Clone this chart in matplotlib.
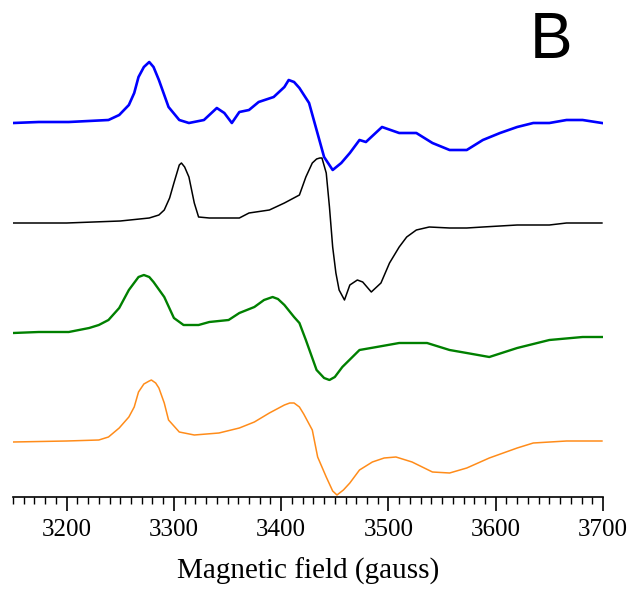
import matplotlib
matplotlib.use("Agg")
import matplotlib.pyplot as plt
from matplotlib.ticker import MultipleLocator

# field positions (gauss) and signal (arbitrary units, baseline = 0)
blue_field = [3150, 3174, 3202, 3239, 3249, 3258, 3263, 3267, 3272, 3277, 3281, 3286,
              3295, 3305, 3314, 3328, 3336, 3340, 3347, 3354, 3361, 3370, 3379, 3393,
              3403, 3407, 3412, 3417, 3426, 3433, 3440, 3448, 3456, 3464, 3473, 3479,
              3494, 3510, 3526, 3541, 3557, 3573, 3588, 3604, 3620, 3635, 3650, 3666,
              3681, 3699]
blue_signal = [0, 1, 1, 3, 8, 18, 30, 46, 56, 61, 56, 43,
               16, 3, 0, 3, 11, 15, 10, 0, 11, 13, 21, 26,
               36, 43, 41, 35, 20, -7, -34, -47, -40, -30, -17, -19,
               -4, -10, -10, -20, -27, -27, -17, -10, -4, 0, 0, 3,
               3, 0]

black_field = [3150, 3200, 3250, 3277, 3286, 3291, 3296, 3300, 3305, 3307, 3310, 3314,
               3319, 3323, 3333, 3361, 3370, 3389, 3403, 3417, 3423, 3429, 3433, 3436,
               3438, 3442, 3445, 3448, 3451, 3454, 3459, 3464, 3471, 3476, 3484, 3493,
               3501, 3510, 3517, 3526, 3538, 3557, 3573, 3588, 3620, 3650, 3666, 3699]
black_signal = [0, 0, 2, 5, 8, 13, 25, 40, 58, 60, 56, 46,
                20, 6, 5, 5, 10, 13, 20, 28, 46, 60, 64, 65,
                65, 50, 16, -24, -50, -67, -77, -62, -57, -59, -69, -60,
                -40, -24, -14, -7, -4, -5, -5, -4, -2, -2, 0, 0]

green_field = [3150, 3174, 3202, 3221, 3230, 3239, 3249, 3258, 3267, 3272, 3277, 3281,
               3291, 3300, 3309, 3323, 3333, 3351, 3361, 3375, 3384, 3392, 3397, 3403,
               3412, 3417, 3423, 3433, 3440, 3445, 3450, 3457, 3473, 3489, 3510, 3536,
               3557, 3573, 3594, 3620, 3650, 3681, 3699]
green_signal = [0, 1, 1, 5, 8, 13, 25, 43, 56, 58, 56, 51,
                36, 15, 8, 8, 11, 13, 20, 26, 33, 36, 34, 28,
                16, 10, -7, -37, -45, -47, -44, -34, -17, -14, -10, -10,
                -17, -20, -24, -15, -7, -4, -4]

orange_field = [3150, 3200, 3230, 3239, 3249, 3258, 3263, 3267, 3272, 3277, 3279, 3283,
                3286, 3291, 3295, 3305, 3319, 3342, 3361, 3375, 3389, 3403, 3408, 3412,
                3417, 3421, 3429, 3434, 3442, 3448, 3452, 3458, 3464, 3473, 3485, 3496,
                3507, 3522, 3541, 3557, 3573, 3594, 3620, 3635, 3666, 3699]
orange_signal = [0, 1, 2, 5, 14, 25, 35, 50, 58, 61, 62, 59,
                 54, 39, 22, 10, 7, 9, 14, 20, 29, 37, 39, 39,
                 35, 28, 12, -15, -35, -49, -53, -48, -41, -28, -20, -16,
                 -15, -20, -30, -31, -26, -16, -6, -1, 1, 1]

# vertical stacking of the four spectra
offsets = [-123, -223, -333, -442]
colors = ["#0000ff", "#000000", "#008000", "#ff8c1a"]
widths = [1.9, 1.1, 1.7, 1.1]

plt.rcParams["font.family"] = ["Liberation Serif", "DejaVu Serif"]

fig = plt.figure(figsize=(6.34, 5.89), dpi=100)
ax = fig.add_axes([13 / 634, (589 - 497) / 589, 590 / 634, 497 / 589])

traces = [(blue_field, blue_signal), (black_field, black_signal),
          (green_field, green_signal), (orange_field, orange_signal)]
for (fld, sig), off, c, lw in zip(traces, offsets, colors, widths):
    ax.plot(fld, [s + off for s in sig], color=c, lw=lw)

ax.set_xlim(3150, 3700)
ax.set_ylim(-497, 0)
for side in ["left", "right", "top"]:
    ax.spines[side].set_visible(False)
ax.spines["bottom"].set_linewidth(1.2)
ax.set_yticks([])
ax.xaxis.set_major_locator(MultipleLocator(100))
ax.xaxis.set_minor_locator(MultipleLocator(10))
ax.tick_params(axis="x", which="major", length=10, width=1.2, labelsize=18, pad=6)
ax.tick_params(axis="x", which="minor", length=5, width=1.0)
ax.set_xlabel("Magnetic field (gauss)", fontsize=21, labelpad=12)

fig.text(551 / 634, 1 - 41 / 589, "B", fontsize=46, family="Liberation Sans",
         ha="center", va="center")

fig.savefig("out.png", dpi=100)
